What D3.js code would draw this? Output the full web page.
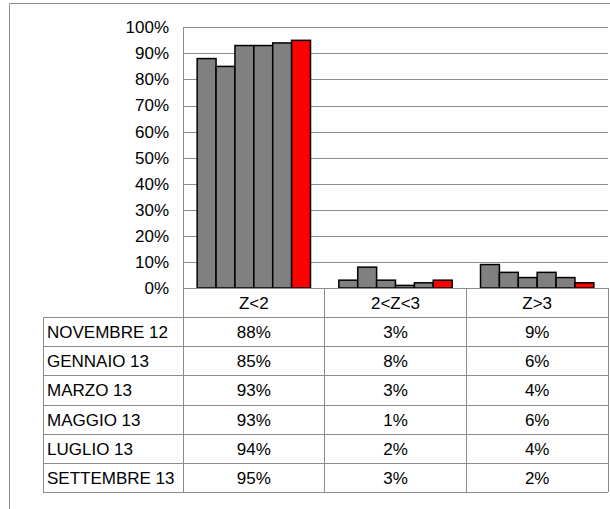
<!DOCTYPE html>
<html>
<head>
<meta charset="utf-8">
<script src="https://cdn.jsdelivr.net/npm/d3@7"></script>
<style>
  body { margin: 0; background: #fff; }
  text { font-family: "Liberation Sans", Arial, sans-serif; fill: #000; }
</style>
</head>
<body>
<svg id="chart" width="610" height="509"></svg>
<script>
/////////////////////////////////// DONNEES ///////////////////////////////////
var categories = ["Z<2", "2<Z<3", "Z>3"];
var mesi = ["NOVEMBRE 12", "GENNAIO 13", "MARZO 13", "MAGGIO 13", "LUGLIO 13", "SETTEMBRE 13"];
// valori per mese, nell'ordine delle categorie
var novembre12 = [0.88, 0.03, 0.09];
var gennaio13 = [0.85, 0.08, 0.06];
var marzo13 = [0.93, 0.03, 0.04];
var maggio13 = [0.93, 0.01, 0.06];
var luglio13 = [0.94, 0.02, 0.04];
var settembre13 = [0.95, 0.03, 0.02];
var yTicks = [0, 0.1, 0.2, 0.3, 0.4, 0.5, 0.6, 0.7, 0.8, 0.9, 1];

var serie = [novembre12, gennaio13, marzo13, maggio13, luglio13, settembre13];

/////////////////////////////////// MISE EN PAGE ///////////////////////////////////
var svg = d3.select("#chart");
var plotLeft = 183, plotRight = 608, plotTop = 27.3, plotBottom = 288;
var tableTop = 317.7, tableBottom = 492.3, tableLeft = 43;
var gridColor = "#8c8c8c";
var fontSize = 17;

// cornice esterna (tagliata a destra e in basso)
svg.append("path")
   .attr("d", "M9.5,509 V3.5 H610")
   .attr("fill", "none")
   .attr("stroke", gridColor)
   .attr("stroke-width", 1);

var x0 = d3.scaleBand().domain(categories).range([plotLeft, plotRight]).padding(0);
var x1 = d3.scaleBand().domain(mesi).range([0, x0.bandwidth()])
           .paddingInner(0).paddingOuter(0.75);
var y = d3.scaleLinear().domain([0, 1]).range([plotBottom, plotTop]);

// griglia orizzontale
svg.append("g")
   .attr("transform", "translate(" + plotLeft + ",0)")
   .call(d3.axisLeft(y).tickValues(yTicks).tickSize(-(plotRight - plotLeft)).tickFormat(""))
   .call(function(g) {
     g.select(".domain").remove();
     g.selectAll("line").attr("stroke", gridColor).attr("shape-rendering", "crispEdges");
   });

// asse y
svg.append("g")
   .attr("transform", "translate(" + plotLeft + ",0)")
   .call(d3.axisLeft(y).tickValues(yTicks).tickSize(0).tickPadding(14).tickFormat(d3.format(".0%")))
   .call(function(g) {
     g.select(".domain").attr("stroke", gridColor).attr("shape-rendering", "crispEdges");
     g.selectAll("text").attr("font-size", fontSize).attr("font-family", "Liberation Sans, Arial, sans-serif");
   });

// barre
var gruppi = svg.append("g").selectAll("g")
   .data(categories)
   .enter().append("g")
   .attr("transform", function(d) { return "translate(" + x0(d) + ",0)"; });

gruppi.selectAll("rect")
   .data(function(c, ci) {
     return mesi.map(function(m, mi) { return { mese: m, i: mi, v: serie[mi][ci] }; });
   })
   .enter().append("rect")
   .attr("x", function(d) { return x1(d.mese); })
   .attr("width", x1.bandwidth())
   .attr("y", function(d) { return y(d.v); })
   .attr("height", function(d) { return y(0) - y(d.v); })
   .attr("fill", function(d) { return d.i === mesi.length - 1 ? "#ff0000" : "#808080"; })
   .attr("stroke", "#000")
   .attr("stroke-width", 1.5);

/////////////////////////////////// TABELLA ///////////////////////////////////
var righe = d3.scaleBand().domain(mesi).range([tableTop, tableBottom]);
var tab = svg.append("g").attr("class", "tabella");

// linee orizzontali
tab.append("line").attr("x1", plotLeft).attr("x2", plotRight).attr("y1", plotBottom).attr("y2", plotBottom);
mesi.forEach(function(m) {
  tab.append("line").attr("x1", tableLeft).attr("x2", plotRight)
     .attr("y1", righe(m)).attr("y2", righe(m));
});
tab.append("line").attr("x1", tableLeft).attr("x2", plotRight)
   .attr("y1", tableBottom).attr("y2", tableBottom);
// linee verticali
tab.append("line").attr("x1", tableLeft).attr("x2", tableLeft).attr("y1", tableTop).attr("y2", tableBottom);
categories.forEach(function(c) {
  tab.append("line").attr("x1", x0(c)).attr("x2", x0(c)).attr("y1", plotBottom).attr("y2", tableBottom);
});
tab.append("line").attr("x1", plotRight).attr("x2", plotRight).attr("y1", plotBottom).attr("y2", tableBottom);
tab.selectAll("line").attr("stroke", gridColor).attr("shape-rendering", "crispEdges");

// intestazioni
tab.selectAll(".cat")
   .data(categories)
   .enter().append("text")
   .attr("class", "cat")
   .attr("x", function(d) { return x0(d) + x0.bandwidth() / 2; })
   .attr("y", (plotBottom + tableTop) / 2)
   .attr("dy", "0.35em")
   .attr("text-anchor", "middle")
   .attr("font-size", fontSize)
   .text(function(d) { return d; });

// etichette dei mesi
tab.selectAll(".mese")
   .data(mesi)
   .enter().append("text")
   .attr("class", "mese")
   .attr("x", tableLeft + 4)
   .attr("y", function(d) { return righe(d) + righe.bandwidth() / 2; })
   .attr("dy", "0.35em")
   .attr("font-size", fontSize)
   .text(function(d) { return d; });

// valori
mesi.forEach(function(m, mi) {
  categories.forEach(function(c, ci) {
    tab.append("text")
       .attr("x", x0(c) + x0.bandwidth() / 2)
       .attr("y", righe(m) + righe.bandwidth() / 2)
       .attr("dy", "0.35em")
       .attr("text-anchor", "middle")
       .attr("font-size", fontSize)
       .text(d3.format(".0%")(serie[mi][ci]));
  });
});
</script>
</body>
</html>
